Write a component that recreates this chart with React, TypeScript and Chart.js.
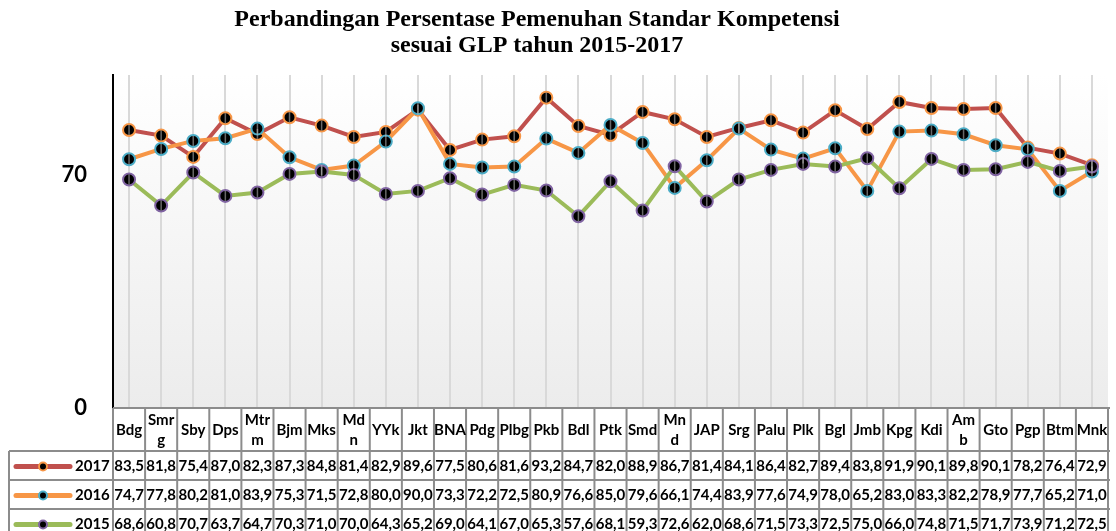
import React, { useEffect, useRef } from "react";
import { Chart, registerables } from "chart.js";

Chart.register(...registerables);

const titleLines = [
  "Perbandingan Persentase Pemenuhan Standar Kompetensi",
  "sesuai GLP tahun 2015-2017",
];

const tickLabels: string[][] = [
  ["Bdg"], ["Smr", "g"], ["Sby"], ["Dps"], ["Mtr", "m"], ["Bjm"], ["Mks"], ["Md", "n"],
  ["YYk"], ["Jkt"], ["BNA"], ["Pdg"], ["Plbg"], ["Pkb"], ["Bdl"], ["Ptk"], ["Smd"],
  ["Mn", "d"], ["JAP"], ["Srg"], ["Palu"], ["Plk"], ["Bgl"], ["Jmb"], ["Kpg"], ["Kdi"],
  ["Am", "b"], ["Gto"], ["Pgp"], ["Btm"], ["Mnk"],
];
const categories = tickLabels.map((l) => l.join(""));

const values2017 = [83.5, 81.8, 75.4, 87.0, 82.3, 87.3, 84.8, 81.4, 82.9, 89.6, 77.5, 80.6, 81.6, 93.2, 84.7, 82.0, 88.9, 86.7, 81.4, 84.1, 86.4, 82.7, 89.4, 83.8, 91.9, 90.1, 89.8, 90.1, 78.2, 76.4, 72.9];
const values2016 = [74.7, 77.8, 80.2, 81.0, 83.9, 75.3, 71.5, 72.8, 80.0, 90.0, 73.3, 72.2, 72.5, 80.9, 76.6, 85.0, 79.6, 66.1, 74.4, 83.9, 77.6, 74.9, 78.0, 65.2, 83.0, 83.3, 82.2, 78.9, 77.7, 65.2, 71.0];
const values2015 = [68.6, 60.8, 70.7, 63.7, 64.7, 70.3, 71.0, 70.0, 64.3, 65.2, 69.0, 64.1, 67.0, 65.3, 57.6, 68.1, 59.3, 72.6, 62.0, 68.6, 71.5, 73.3, 72.5, 75.0, 66.0, 74.8, 71.5, 71.7, 73.9, 71.2, 72.5];

const seriesNames = ["2017", "2016", "2015"];
const yTicks = [0, 70];

const lineColors = ["#C0504D", "#F79646", "#9BBB59"];
const markerBorders = ["#F79646", "#4BACC6", "#8064A2"];

const TABLE_FONT = "bold 15px Lato";

const fmt = (v: number) => v.toFixed(1).replace(".", ",");

const decorPlugin = {
  id: "decor",
  beforeDraw(chart: any) {
    const { ctx, chartArea: a } = chart;
    ctx.save();
    const g = ctx.createLinearGradient(0, a.top, 0, a.bottom);
    g.addColorStop(0, "#ffffff");
    g.addColorStop(1, "#ececec");
    ctx.fillStyle = g;
    ctx.fillRect(a.left, a.top, a.right - a.left, a.bottom - a.top);
    ctx.restore();
  },
  afterDatasetsDraw(chart: any) {
    const { ctx } = chart;
    ctx.save();
    ctx.strokeStyle = "rgba(190,190,190,0.55)";
    ctx.lineWidth = 1.5;
    chart.data.datasets.forEach((_: any, di: number) => {
      const meta = chart.getDatasetMeta(di);
      meta.data.forEach((pt: any) => {
        ctx.beginPath();
        ctx.moveTo(pt.x, pt.y - 5);
        ctx.lineTo(pt.x, pt.y + 5);
        ctx.stroke();
      });
    });
    ctx.restore();
  },
  afterDraw(chart: any) {
    const { ctx, chartArea: a } = chart;
    const xs = chart.scales.x;
    const n = categories.length;
    const colW = (a.right - a.left) / n;
    const top = a.bottom;
    const headerH = 43;
    const rowH = 29;
    const bottom = top + headerH + rowH * 3 + 5;
    const legendLeft = 9;

    ctx.save();
    // title
    ctx.fillStyle = "#000";
    ctx.font = "bold 24px 'Liberation Serif'";
    ctx.textAlign = "center";
    ctx.textBaseline = "middle";
    ctx.fillText(titleLines[0], 537, 20);
    ctx.fillText(titleLines[1], 537, 46);

    // table grid
    ctx.strokeStyle = "#8c8c8c";
    ctx.lineWidth = 2;
    ctx.beginPath();
    ctx.moveTo(a.left, top);
    ctx.lineTo(a.right + 2, top);
    for (let k = 0; k <= 3; k++) {
      const y = top + headerH + rowH * k;
      ctx.moveTo(legendLeft, y);
      ctx.lineTo(a.right + 2, y);
    }
    for (let i = 0; i <= n; i++) {
      const x = a.left + i * colW;
      ctx.moveTo(x, top);
      ctx.lineTo(x, bottom);
    }
    ctx.moveTo(legendLeft, top + headerH);
    ctx.lineTo(legendLeft, bottom);
    ctx.stroke();

    // header labels
    ctx.fillStyle = "#000";
    ctx.font = TABLE_FONT;
    ctx.textAlign = "center";
    ctx.textBaseline = "middle";
    tickLabels.forEach((lines, i) => {
      const cx = xs.getPixelForValue(i);
      const cy = top + headerH / 2 + 1;
      if (lines.length === 1) {
        ctx.fillText(lines[0], cx, cy);
      } else {
        ctx.fillText(lines[0], cx, cy - 10);
        ctx.fillText(lines[1], cx, cy + 10);
      }
    });

    // rows
    const rows = [values2017, values2016, values2015];
    rows.forEach((vals, r) => {
      const cy = top + headerH + rowH * r + rowH / 2 + 1;
      // legend key
      ctx.strokeStyle = lineColors[r];
      ctx.lineWidth = 5;
      ctx.lineCap = "round";
      ctx.beginPath();
      ctx.moveTo(16, cy);
      ctx.lineTo(70, cy);
      ctx.stroke();
      ctx.beginPath();
      ctx.arc(43, cy, 4, 0, Math.PI * 2);
      ctx.fillStyle = "#000";
      ctx.fill();
      ctx.lineWidth = 2;
      ctx.strokeStyle = markerBorders[r];
      ctx.stroke();
      ctx.fillStyle = "#000";
      ctx.textAlign = "left";
      ctx.fillText(seriesNames[r], 75, cy);
      ctx.textAlign = "center";
      vals.forEach((v, i) => {
        ctx.fillText(fmt(v), xs.getPixelForValue(i), cy);
      });
    });
    ctx.restore();
  },
};

export default function App() {
  const ref = useRef<HTMLCanvasElement | null>(null);

  useEffect(() => {
    if (!ref.current) return;
    const datasets = [values2017, values2016, values2015].map((vals, i) => ({
      label: seriesNames[i],
      data: vals,
      borderColor: lineColors[i],
      backgroundColor: lineColors[i],
      borderWidth: 4,
      tension: 0,
      pointRadius: 6,
      pointBorderWidth: 2,
      pointBackgroundColor: "#000",
      pointBorderColor: markerBorders[i],
      order: 3 - i,
      fill: false,
    }));
    const chart = new Chart(ref.current, {
      type: "line",
      data: { labels: categories, datasets },
      options: {
        animation: false,
        responsive: false,
        devicePixelRatio: 1,
        layout: { padding: { top: 75, bottom: 123, left: 0, right: 0 } },
        plugins: { legend: { display: false }, tooltip: { enabled: false }, title: { display: false } },
        scales: {
          x: {
            type: "category",
            offset: true,
            grid: { display: true, offset: false, color: "#d9d9d9", lineWidth: 2, drawTicks: false },
            border: { display: false },
            ticks: { display: false },
            afterFit: (s: any) => { s.height = 0; },
          },
          y: {
            min: 0,
            max: 100,
            grid: { display: false, drawTicks: false },
            border: { display: true, color: "#000", width: 2 },
            ticks: { font: { family: "Lato", size: 22, weight: "bold" }, color: "#000", padding: 26 },
            afterBuildTicks: (s: any) => { s.ticks = yTicks.map((v) => ({ value: v })); },
            afterFit: (s: any) => { s.width = 113; },
          },
        },
      },
      plugins: [decorPlugin],
    } as any);
    return () => chart.destroy();
  }, []);

  return (
    <div style={{ position: "absolute", left: 0, top: 0, width: 1116, height: 531, background: "#fff" }}>
      <canvas ref={ref} width={1116} height={531} style={{ display: "block" }} />
    </div>
  );
}
